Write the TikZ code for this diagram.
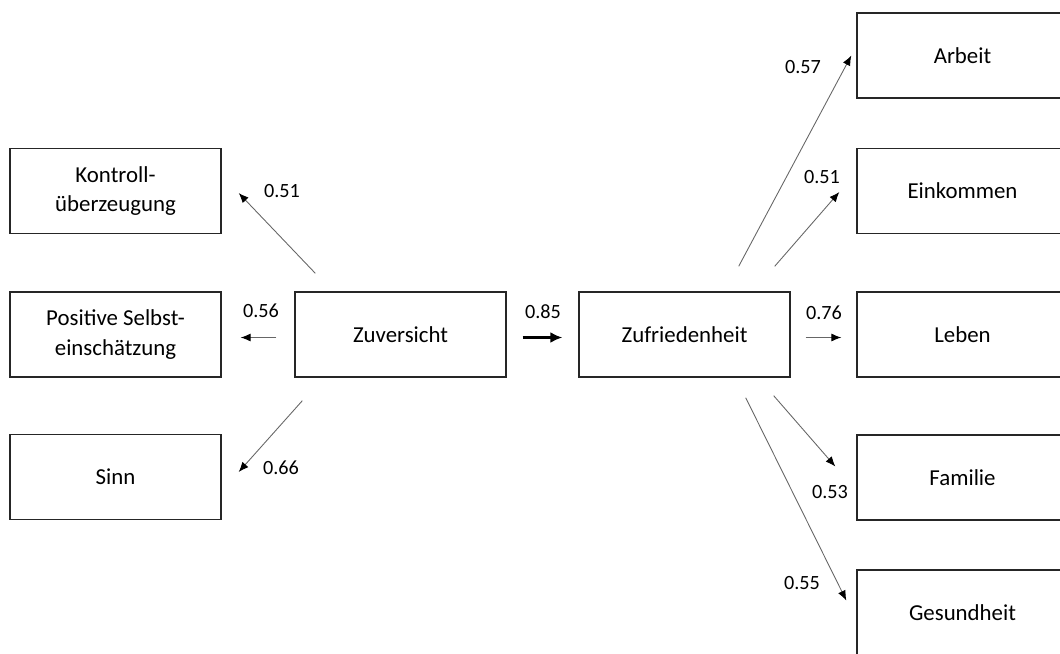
\documentclass[tikz,border=0pt]{standalone}
\usepackage{fontspec}
\setmainfont{Carlito}
\usetikzlibrary{calc}
\usetikzlibrary{arrows.meta}

\tikzset{
    box/.style={draw=black!85, line width=0.8pt, minimum width=4.22cm, minimum height=1.7cm,
        align=center, font=\fontsize{13}{17}\selectfont},
    pfeil/.style={draw=black!60, line width=0.5pt, -{Latex[black,length=2mm,width=1.6mm]}},
    dick/.style={draw=black, line width=1.6pt, -{Latex[length=2.4mm,width=2.2mm]}},
    lab/.style={font=\fontsize{11.5}{13}\selectfont, inner sep=0pt}
}

\begin{document}
\begin{tikzpicture}[x=0.02cm, y=-0.02cm]
            % Picture frame (pixels, y pointing down)
            \useasboundingbox (0,0) rectangle (1060,653);
            \clip (0,0) rectangle (1060,653);

            % Column positions
            \def\xl{115.5}  % left column
            \def\xz{400.5}  % Zuversicht
            \def\xf{684.5}  % Zufriedenheit
            \def\xr{962.5}  % right column

            % Draw the boxes
            \node[box] (kon)  at (\xl,191)   {Kontroll-\\überzeugung};
            \node[box] (pos)  at (\xl,334.5) {Positive Selbst-\\einschätzung};
            \node[box] (sinn) at (\xl,477)   {Sinn};
            \node[box] (zuv)  at (\xz,334.5) {Zuversicht};
            \node[box] (zuf)  at (\xf,334.5) {Zufriedenheit};
            \node[box] (arb)  at (\xr,55.5)  {Arbeit};
            \node[box] (ein)  at (\xr,191)   {Einkommen};
            \node[box] (leb)  at (\xr,334.5) {Leben};
            \node[box] (fam)  at (\xr,477.5) {Familie};
            \node[box] (ges)  at (\xr,612.5) {Gesundheit};

            % Draw loadings of Zuversicht
            \draw[pfeil] ([shift={(21,-18)}]zuv.north west) -- ([shift={(17,2)}]kon.east);
            \draw[pfeil] ([shift={(-18,3)}]zuv.west) -- ([shift={(19,3)}]pos.east);
            \draw[pfeil] ([shift={(8,23)}]zuv.south west) -- ([shift={(17,-5)}]sinn.east);

            % Draw path coefficient
            \draw[dick] ([shift={(16,3)}]zuv.east) -- ([shift={(-16,3)}]zuf.west);

            % Draw loadings of Zufriedenheit
            \draw[pfeil] ([shift={(-52,-25)}]zuf.north east) -- ([shift={(-5,0)}]arb.west);
            \draw[pfeil] ([shift={(-16,-25)}]zuf.north east) -- ([shift={(-17,1)}]ein.west);
            \draw[pfeil] ([shift={(15,3)}]zuf.east) -- ([shift={(-15,3)}]leb.west);
            \draw[pfeil] ([shift={(-17,18)}]zuf.south east) -- ([shift={(-21,-11)}]fam.west);
            \draw[pfeil] ([shift={(-45,20)}]zuf.south east) -- ([shift={(-10,-12)}]ges.west);

            % Draw coefficients
            \node[lab] (lkon)  at (282,191) {0.51};
            \node[lab] (lpos)  at (261,311) {0.56};
            \node[lab] (lsinn) at (281,468) {0.66};
            \node[lab] (lzuf)  at (543,312) {0.85};
            \node[lab] (larb)  at (803,67)  {0.57};
            \node[lab] (lein)  at (822,177) {0.51};
            \node[lab] (lleb)  at (824,313) {0.76};
            \node[lab] (lfam)  at (830,492) {0.53};
            \node[lab] (lges)  at (802,583) {0.55};

        \end{tikzpicture}
\end{document}
